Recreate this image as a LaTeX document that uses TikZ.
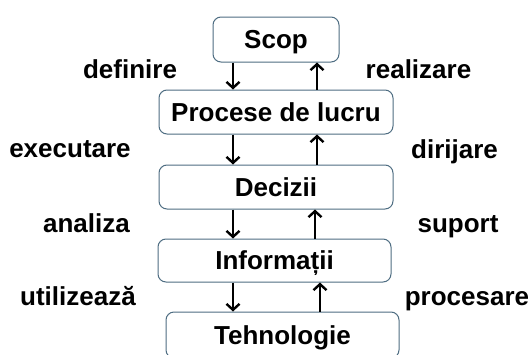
\documentclass[tikz,border=0pt]{standalone}
\usepackage{fontspec}
\setmainfont{Liberation Sans}
\usetikzlibrary{arrows.meta}
\definecolor{boxc}{HTML}{4E6D82}
\tikzset{
  box/.style={draw=boxc, line width=1pt, rounded corners=8pt, fill=white,
    inner sep=0pt, minimum height=44pt, text height=18.5pt, text depth=0pt,
    font=\fontsize{26}{30}\bfseries\selectfont},
  lbl/.style={anchor=base, inner sep=0pt, font=\fontsize{26}{30}\bfseries\selectfont},
  arr/.style={line width=2.4pt, -{Straight Barb[length=6pt,width=13pt,line width=2.4pt]}}
}
\begin{document}
\begin{tikzpicture}[x=1pt,y=-1pt]
\useasboundingbox (0,0) rectangle (528,354);
\clip (0,0) rectangle (528,354);
\node[box, minimum width=126pt, minimum height=45pt] (scop) at (276,39.5) {Scop};
\node[box, minimum width=234pt] (proc) at (276,112) {Procese de lucru};
\node[box, minimum width=234pt] (dec) at (276,187) {Decizii};
\node[box, minimum width=233pt, minimum height=43pt] (inf) at (274.5,260.5) {Informații};
\node[box, minimum width=233pt, minimum height=46pt] (teh) at (282.5,335) {Tehnologie};
\coordinate (dx) at (233,0);
\coordinate (ua) at (317,0);
\coordinate (ub) at (317,0);
\coordinate (uc) at (315,0);
\coordinate (ud) at (320,0);
\draw[arr] (scop.south -| dx) -- (proc.north -| dx);
\draw[arr] (proc.north -| ua) -- (scop.south -| ua);
\draw[arr] (proc.south -| dx) -- (dec.north -| dx);
\draw[arr] (dec.north -| ub) -- (proc.south -| ub);
\draw[arr] (dec.south -| dx) -- (inf.north -| dx);
\draw[arr] (inf.north -| uc) -- (dec.south -| uc);
\draw[arr] (inf.south -| dx) -- (teh.north -| dx);
\draw[arr] (teh.north -| ud) -- (inf.south -| ud);
\node[lbl] (l1) at (130,78) {definire};
\node[lbl] (r1) at (418.5,78) {realizare};
\node[lbl] (l2) at (70,157) {executare};
\node[lbl] (r2) at (454.5,158) {dirijare};
\node[lbl] (l3) at (86.5,232) {analiza};
\node[lbl] (r3) at (458,232) {suport};
\node[lbl] (l4) at (78,305) {utilizează};
\node[lbl] (r4) at (467,305) {procesare};
\end{tikzpicture}
\end{document}
